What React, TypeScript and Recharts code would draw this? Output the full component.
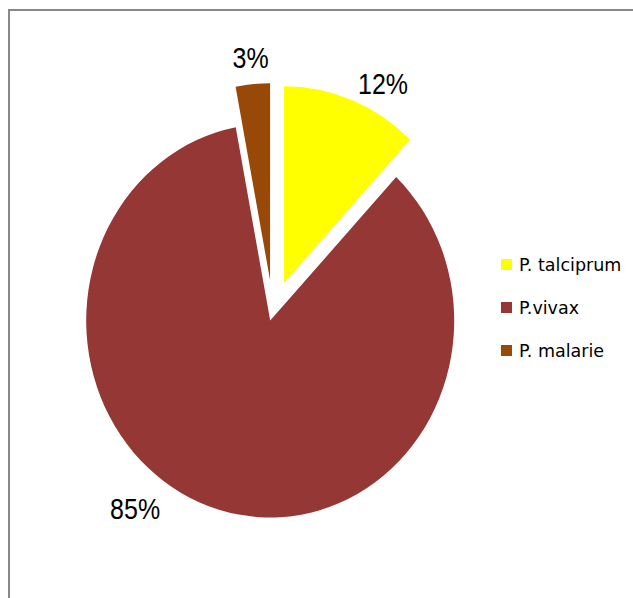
import { Legend, Pie, PieChart } from "recharts";

const species = ["P. talciprum", "P.vivax", "P. malarie"];
const shares = [12, 85, 3];

const COLORS = ["#FFFF00", "#953735", "#984807"];
const RAD = Math.PI / 180;
// the original pie is slightly taller than wide
const Y_STRETCH = 1.07;
// how far each slice is pulled out of the pie, px
const EXPLODE = [30, 10, 31];
// label placement: clockwise shift from mid-angle (deg) and reach as a multiple of the radius
const LABEL_SHIFT = [5.8, 20.5, 0];
const LABEL_REACH = [1.3, 1.254, 1.293];

const data = species.map((name, i) => ({ name, value: shares[i], fill: COLORS[i] }));

const sliceIndex = (p: any) => {
  if (typeof p.index === "number") return p.index;
  const n = p.name ?? p.payload?.name;
  return Math.max(0, species.indexOf(n));
};

function ExplodedSlice(props: any) {
  const { cx, cy, outerRadius, startAngle, endAngle, fill } = props;
  const i = sliceIndex(props);
  const mid = ((startAngle + endAngle) / 2) * RAD;
  const ox = cx + Math.cos(-mid) * EXPLODE[i];
  const oy = cy + Math.sin(-mid) * EXPLODE[i];
  const rx = outerRadius;
  const ry = outerRadius * Y_STRETCH;
  const at = (a: number) => [ox + Math.cos(-a * RAD) * rx, oy + Math.sin(-a * RAD) * ry];
  const [x1, y1] = at(startAngle);
  const [x2, y2] = at(endAngle);
  const large = Math.abs(endAngle - startAngle) > 180 ? 1 : 0;
  const sweep = startAngle > endAngle ? 1 : 0;
  return (
    <path
      d={`M${ox},${oy}L${x1},${y1}A${rx},${ry} 0 ${large} ${sweep} ${x2},${y2}Z`}
      fill={fill}
      stroke="none"
    />
  );
}

function PercentLabel(props: any) {
  const { cx, cy, midAngle, outerRadius, value } = props;
  const i = sliceIndex(props);
  const a = (midAngle - LABEL_SHIFT[i]) * RAD;
  const x = cx + Math.cos(-a) * outerRadius * LABEL_REACH[i];
  const y = cy + Math.sin(-a) * outerRadius * Y_STRETCH * LABEL_REACH[i];
  return (
    <text
      x={x}
      y={y}
      textAnchor="middle"
      dominantBaseline="central"
      fontFamily="'Liberation Sans', Arial, sans-serif"
      fontSize={25}
      fill="#000"
      transform={`translate(${x},${y}) scale(1,1.18) translate(${-x},${-y})`}
    >
      {`${value}%`}
    </text>
  );
}

function SpeciesLegend({ payload }: any) {
  // keep the data order (the legend sorts by name otherwise)
  const items = [...(payload ?? [])].sort(
    (a: any, b: any) => species.indexOf(a.value) - species.indexOf(b.value)
  );
  return (
    <div>
      {items.map((entry: any) => (
        <div
          key={entry.value}
          style={{ height: 43, display: "flex", alignItems: "center" }}
        >
          <span
            style={{
              width: 11,
              height: 11,
              background: entry.color,
              display: "inline-block",
              marginRight: 7,
            }}
          />
          <span
            style={{
              fontFamily: "'DejaVu Sans', sans-serif",
              fontSize: 17.5,
              color: "#000",
            }}
          >
            {entry.value}
          </span>
        </div>
      ))}
    </div>
  );
}

export default function App() {
  return (
    <div
      style={{
        position: "absolute",
        left: 0,
        top: 0,
        width: 633,
        height: 598,
        background: "#fff",
        overflow: "hidden",
      }}
    >
      <div
        style={{
          position: "absolute",
          left: 8,
          top: 9,
          width: 800,
          height: 800,
          borderTop: "2px solid #888",
          borderLeft: "2px solid #888",
        }}
      />
      <PieChart width={633} height={598} margin={{ top: 0, right: 0, bottom: 0, left: 0 }}>
        <Pie
          data={data}
          dataKey="value"
          nameKey="name"
          cx={273}
          cy={311}
          outerRadius={184}
          startAngle={90}
          endAngle={-270}
          stroke="none"
          shape={ExplodedSlice}
          label={PercentLabel}
          labelLine={false}
          isAnimationActive={false}
        />
        <Legend
          layout="vertical"
          content={SpeciesLegend}
          wrapperStyle={{ left: 501, top: 243, width: 130 }}
        />
      </PieChart>
    </div>
  );
}
